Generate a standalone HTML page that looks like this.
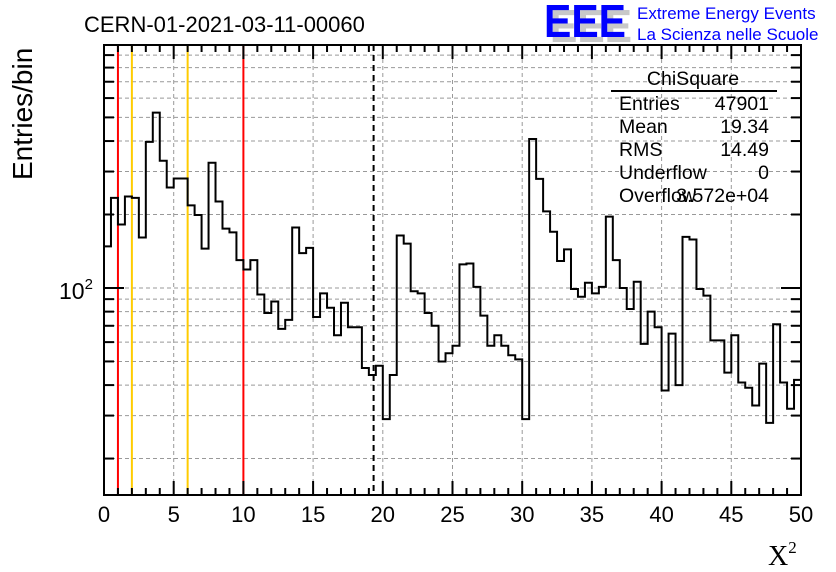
<!DOCTYPE html>
<html><head><meta charset="utf-8"><style>
html,body{margin:0;padding:0;background:#fff;}
svg{display:block;font-family:"Liberation Sans",sans-serif;}
</style></head><body>
<svg id="chart" width="836" height="572" xmlns="http://www.w3.org/2000/svg">
<rect width="836" height="572" fill="#fff"/>
<g id="grid"></g>
<g id="vlines"></g>
<path id="hist" fill="none" stroke="#000" stroke-width="2"/>
<g id="axes"></g>
<text x="84" y="32" font-size="22">CERN-01-2021-03-11-00060</text>
<text transform="translate(32,180) rotate(-90)" font-size="28">Entries/bin</text>
<text x="768" y="565" font-size="28" font-family="Liberation Serif,serif">X<tspan font-size="17" dy="-12">2</tspan></text>
<g>
<text x="550" y="42" font-size="46" font-weight="bold" fill="#c8c8c8" textLength="82" lengthAdjust="spacingAndGlyphs">EEE</text>
<text x="544" y="37" font-size="46" font-weight="bold" fill="#0000ff" textLength="82" lengthAdjust="spacingAndGlyphs">EEE</text>
<text x="637" y="19" font-size="17" fill="#0000ff">Extreme Energy Events</text>
<text x="637" y="40" font-size="17" fill="#0000ff">La Scienza nelle Scuole</text>
</g>
<g font-size="19.5">
<text x="693" y="85" text-anchor="middle">ChiSquare</text>
<line x1="611" y1="91" x2="777" y2="91" stroke="#000" stroke-width="2"/>
<text x="619" y="110">Entries</text><text x="769" y="110" text-anchor="end">47901</text>
<text x="619" y="133">Mean</text><text x="769" y="133" text-anchor="end">19.34</text>
<text x="619" y="156">RMS</text><text x="769" y="156" text-anchor="end">14.49</text>
<text x="619" y="179">Underflow</text><text x="769" y="179" text-anchor="end">0</text>
<text x="619" y="202">Overflow</text><text x="769" y="202" text-anchor="end">3.572e+04</text>
</g>
</svg>
<script>
const binCounts = [148,234,182,237,234,161,397,523,332,258,281,281,218,199,145,326,226,175,169,130,
119,130,94,79,88,68,74,177,139,146,76,95,83,64,87,69,69,47,44,48,
29,44,164,152,97,95,79,70,50,54,58,125,126,101,77,58,64,58,53,51,
29,408,280,206,170,129,144,99,92,105,95,101,196,130,100,82,106,59,80,69,
38,65,40,162,158,99,93,61,61,45,64,41,39,33,49,28,71,41,32,42];
const xTickLabels = [0,5,10,15,20,25,30,35,40,45,50];
const redCuts = [1,10];
const orangeCuts = [2,6];
const meanValue = 19.34;
const xMin=0,xMax=50,yMin=14.18,yMax=990;
const L=104,R=801,T=45,B=495;
const sx=v=>L+(v-xMin)/(xMax-xMin)*(R-L);
const sy=v=>B-(Math.log10(v)-Math.log10(yMin))/(Math.log10(yMax)-Math.log10(yMin))*(B-T);
const NS="http://www.w3.org/2000/svg";
function mk(tag,attrs,parent){const e=document.createElementNS(NS,tag);for(const k in attrs)e.setAttribute(k,attrs[k]);parent.appendChild(e);return e;}
const grid=document.getElementById('grid'),axes=document.getElementById('axes'),vl=document.getElementById('vlines');
const yGrid=[];
for(const d of [10,100]){for(let m=1;m<=9;m++){const v=m*d;if(v>yMin&&v<yMax)yGrid.push(v);}}
yGrid.forEach(v=>{
 const g=mk('line',{x1:L,x2:R,y1:sy(v),y2:sy(v),stroke:'#999','stroke-dasharray':'4,3','stroke-width':1},grid);
 
 
 const len=(v===100)?20:10;
 const t1=mk('line',{x1:L,x2:L+len,y1:sy(v),y2:sy(v),stroke:'#000','stroke-width':2},axes);
 
 
 const t2=mk('line',{x1:R,x2:R-len,y1:sy(v),y2:sy(v),stroke:'#000','stroke-width':2},axes);
 
 
});
xTickLabels.forEach(v=>{
 if(v>xMin&&v<xMax){const g=mk('line',{x1:sx(v),x2:sx(v),y1:T,y2:B,stroke:'#999','stroke-dasharray':'4,3','stroke-width':1},grid);
 
 }
 const t=mk('text',{x:sx(v),y:522,'font-size':22,'text-anchor':'middle'},axes);
 t.textContent=v;
 
 
});
for(let v=xMin;v<=xMax;v++){
 const len=(v%5===0)?14:7;
 const a=mk('line',{x1:sx(v),x2:sx(v),y1:B,y2:B-len,stroke:'#000','stroke-width':2},axes);
 
 
 const b=mk('line',{x1:sx(v),x2:sx(v),y1:T,y2:T+len,stroke:'#000','stroke-width':2},axes);
 
 
}
const yl=mk('text',{x:59,y:299,'font-size':23},axes);
yl.innerHTML='10<tspan font-size="15" dy="-10">2</tspan>';


const frame=mk('rect',{x:L,y:T,width:R-L,height:B-T,fill:'none',stroke:'#000','stroke-width':2},axes);


redCuts.forEach(v=>{const l=mk('line',{x1:sx(v),x2:sx(v),y1:T,y2:B,stroke:'#ff0000','stroke-width':2},vl);
 
 });
orangeCuts.forEach(v=>{const l=mk('line',{x1:sx(v),x2:sx(v),y1:T,y2:B,stroke:'#ffcc00','stroke-width':2},vl);
 
 });
const ml=mk('line',{x1:sx(meanValue),x2:sx(meanValue),y1:T,y2:B,stroke:'#000','stroke-width':2,'stroke-dasharray':'6,4'},vl);


const bw=(xMax-xMin)/binCounts.length;
let d='M'+sx(xMin)+','+B;
binCounts.forEach((c,i)=>{const y=sy(Math.max(c,yMin));d+=' L'+sx(xMin+i*bw)+','+y+' L'+sx(xMin+(i+1)*bw)+','+y;});
document.getElementById('hist').setAttribute('d',d);
</script>
</body></html>
